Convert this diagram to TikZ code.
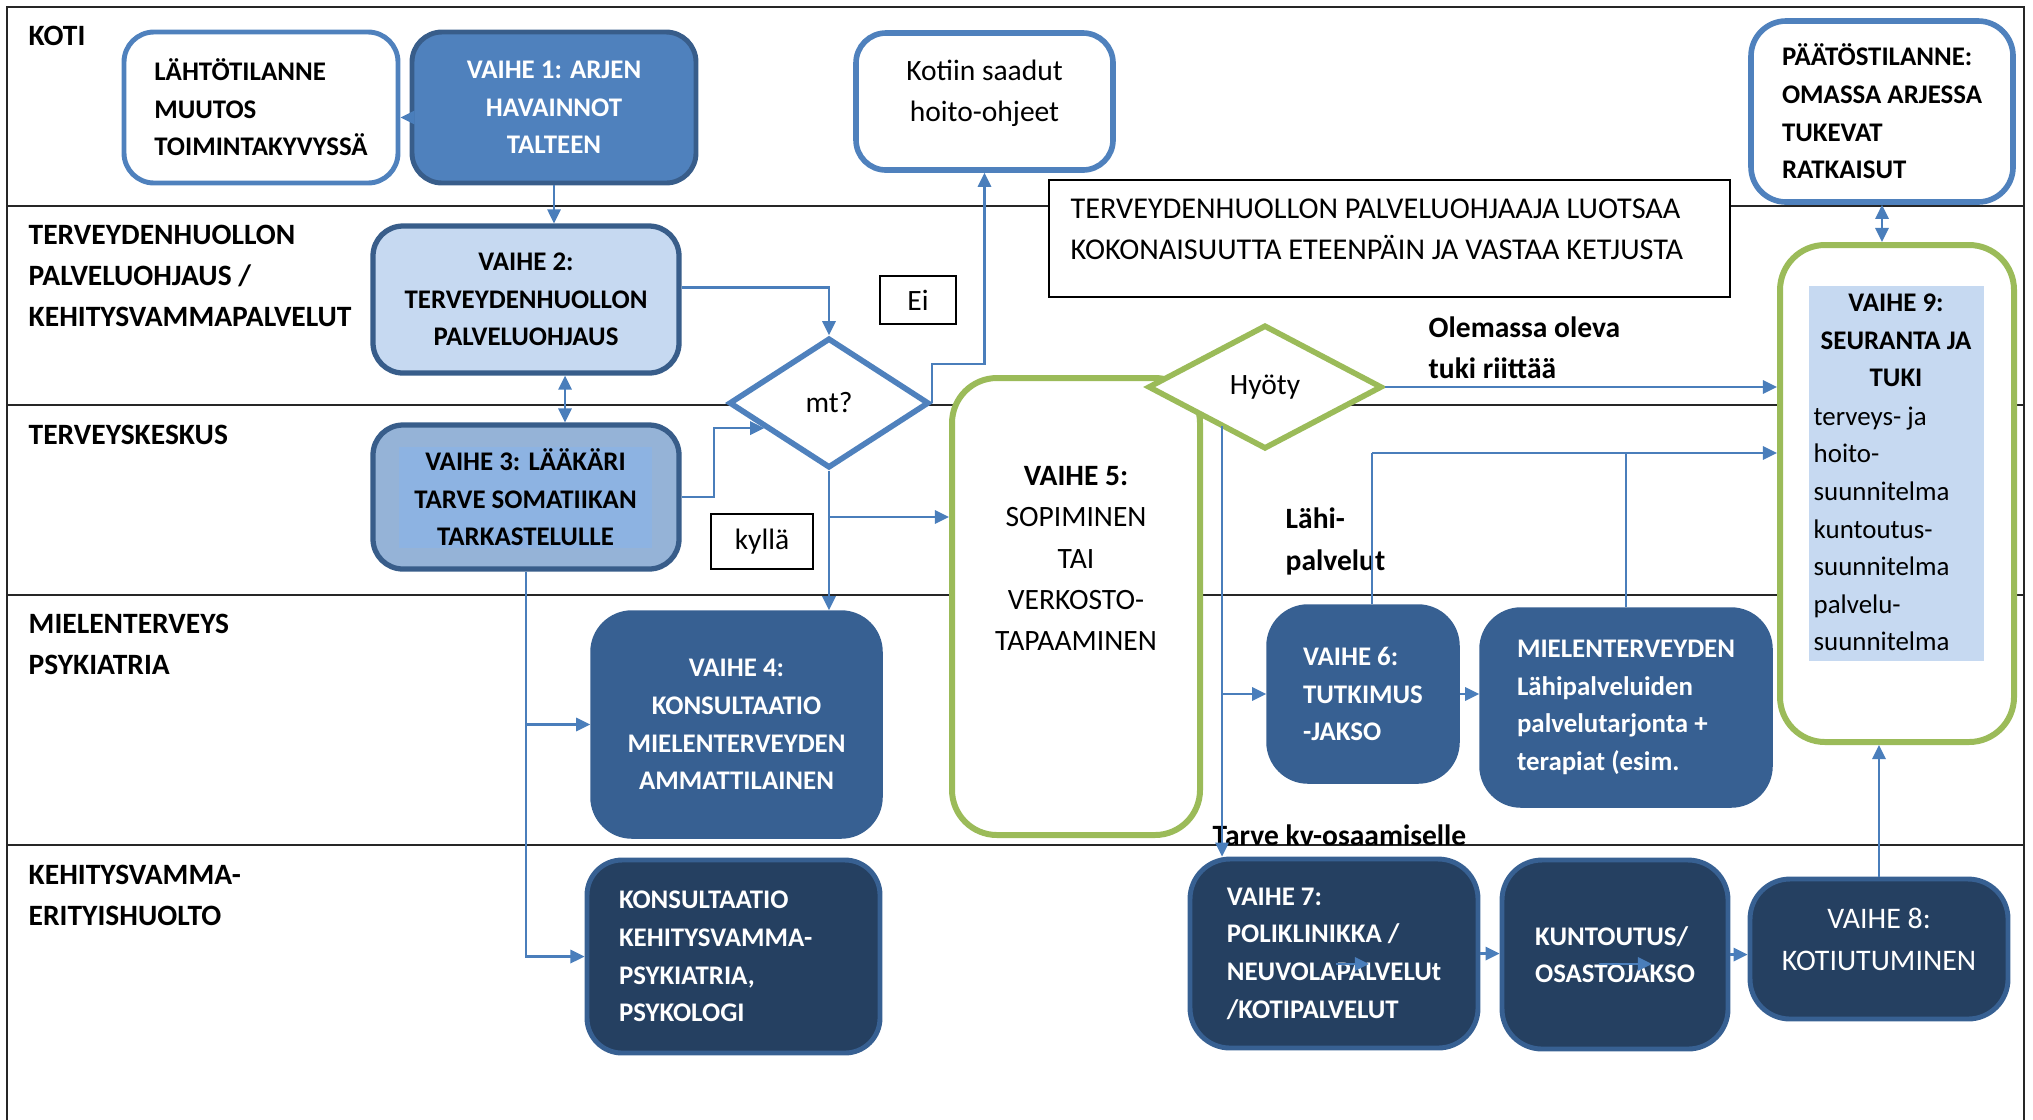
\documentclass[tikz,border=0pt]{standalone}
\usepackage{fontspec}
\setmainfont{Carlito}
\usepackage{tikz}
\usetikzlibrary{arrows.meta,shapes.geometric,calc}
\definecolor{accblue}{HTML}{4F81BD}
\definecolor{darkedge}{HTML}{385D8A}
\definecolor{paleblue}{HTML}{C6D9F1}
\definecolor{midblue}{HTML}{95B3D7}
\definecolor{skyblue}{HTML}{8DB3E2}
\definecolor{navy}{HTML}{376092}
\definecolor{deepnavy}{HTML}{254061}
\definecolor{leaf}{HTML}{9BBB59}
\definecolor{wire}{HTML}{4A7EBB}
\newcommand{\fb}{\fontsize{7.65}{10.7}\selectfont}
\newcommand{\fn}{\fontsize{8.4}{10.7}\selectfont}
\newcommand{\fw}{\fontsize{8.4}{11.7}\selectfont}
\tikzset{
lane/.style={draw=black!85,line width=0.55pt},
lanelbl/.style={anchor=west,align=left,inner sep=0pt,font=\fw\bfseries},
box/.style={rectangle,inner sep=0pt,align=center,font=\fb\bfseries},
pale/.style={box,fill=white,draw=accblue,line width=1.4pt,rounded corners=0.3cm},
solidblue/.style={box,fill=accblue,draw=darkedge,line width=1.4pt,rounded corners=0.3cm,text=white},
lightbox/.style={box,fill=paleblue,draw=darkedge,line width=1.5pt,rounded corners=0.3cm},
greenbox/.style={box,fill=white,draw=leaf,line width=1.7pt,rounded corners=0.45cm},
navybox/.style={box,fill=navy,draw=navy,line width=1pt,rounded corners=0.4cm,text=white},
deepbox/.style={box,fill=deepnavy,draw=navy,line width=1.4pt,rounded corners=0.4cm,text=white},
tag/.style={rectangle,draw=black,line width=0.5pt,fill=white,inner sep=0pt,font=\fn},
decision/.style={diamond,fill=white,line width=1.6pt,inner sep=0pt,font=\fn},
note/.style={anchor=west,align=left,inner sep=0pt,font=\fw\bfseries},
wire/.style={draw=wire,line width=0.6pt},
arr/.style={wire,-{Triangle[length=4pt,width=3.8pt]}},
arrtwo/.style={wire,{Triangle[length=4pt,width=3.8pt]}-{Triangle[length=4pt,width=3.8pt]}}
}
\begin{document}
\begin{tikzpicture}[x=1cm,y=-1cm]
\useasboundingbox(0,0)rectangle(20.33,11.19);
\draw[lane](0.07,11.4)--(0.07,0.07)--(20.24,0.07)--(20.24,11.4);
\foreach\y in{2.06,4.05,5.95,8.45}{\draw[lane](0.07,\y)--(20.24,\y);}
\node[lanelbl](koti)at(0.28,0.36){KOTI};
\node[lanelbl](tpo)at(0.28,2.76){TERVEYDENHUOLLON\\PALVELUOHJAUS /\\KEHITYSVAMMAPALVELUT};
\node[lanelbl](tk)at(0.28,4.35){TERVEYSKESKUS};
\node[lanelbl](mp)at(0.28,6.44){MIELENTERVEYS\\PSYKIATRIA};
\node[lanelbl](ke)at(0.28,8.95){KEHITYSVAMMA-\\ERITYISHUOLTO};

\node[pale,align=left,minimum width=2.74cm,minimum height=1.51cm](lahto)at(2.61,1.075){L\"AHT\"OTILANNE\\MUUTOS\\TOIMINTAKYVYSS\"A};
\node[solidblue,minimum width=2.84cm,minimum height=1.51cm](v1)at(5.54,1.075){VAIHE 1: ARJEN\\HAVAINNOT\\TALTEEN};
\node[lightbox,minimum width=3.06cm,minimum height=1.47cm](v2)at(5.26,2.995){VAIHE 2:\\TERVEYDENHUOLLON\\PALVELUOHJAUS};
\node[lightbox,fill=midblue,minimum width=3.06cm,minimum height=1.44cm](v3)at(5.26,4.97){};
\node[box,fill=skyblue,minimum width=2.53cm,minimum height=1.01cm](v3t)at(5.255,4.975){VAIHE 3: L\"A\"AK\"ARI\\TARVE SOMATIIKAN\\TARKASTELULLE};
\node[pale,line width=1.6pt,minimum width=2.57cm,minimum height=1.37cm](kotiin)at(9.845,1.015){};
\node[box,font=\fw](kotiint)at(9.845,0.93){Kotiin saadut\\hoito-ohjeet};
\node[tag,minimum width=6.81cm,minimum height=1.17cm](terv)at(13.895,2.385){};
\node[anchor=west,align=left,inner sep=0pt,font=\fontsize{8.6}{11.7}\selectfont](tervt)at(10.70,2.295){TERVEYDENHUOLLON PALVELUOHJAAJA LUOTSAA\\KOKONAISUUTTA ETEENP\"AIN JA VASTAA KETJUSTA};
\node[pale,line width=1.6pt,rounded corners=0.35cm,align=left,minimum width=2.62cm,minimum height=1.81cm](paatos)at(18.82,1.115){P\"A\"AT\"OSTILANNE:\\OMASSA ARJESSA\\TUKEVAT\\RATKAISUT};

\node[greenbox,minimum width=2.34cm,minimum height=4.97cm](v9)at(18.97,4.935){};
\node[box,fill=paleblue,minimum width=1.75cm,minimum height=3.75cm](v9in)at(18.965,4.735){};
\node[box](v9head)at(18.96,3.405){VAIHE 9:\\SEURANTA JA\\TUKI};
\node[anchor=west,align=left,inner sep=0pt,font=\fb](v9list)at(18.13,5.29){terveys- ja\\hoito-\\suunnitelma\\kuntoutus-\\suunnitelma\\palvelu-\\suunnitelma};

\node[greenbox,minimum width=2.48cm,minimum height=4.57cm](v5)at(10.76,6.065){};
\node[box,font=\fw](v5t)at(10.76,5.585){\textbf{VAIHE 5:}\\SOPIMINEN\\TAI\\VERKOSTO-\\TAPAAMINEN};
\node[decision,draw=accblue,minimum width=2.0cm,minimum height=1.3cm](mt)at(8.29,4.03){mt?};
\node[decision,draw=leaf,minimum width=2.34cm,minimum height=1.24cm](hyoty)at(12.65,3.87){Hy\"oty};
\node[tag,minimum width=0.76cm,minimum height=0.48cm](ei)at(9.18,3.0){Ei};
\node[tag,minimum width=1.02cm,minimum height=0.55cm](kylla)at(7.62,5.415){kyll\"a};

\node[navybox,minimum width=2.89cm,minimum height=2.25cm](v4)at(7.365,7.245){VAIHE 4:\\KONSULTAATIO\\MIELENTERVEYDEN\\AMMATTILAINEN};
\node[deepbox,rounded corners=0.35cm,align=left,text width=2.29cm,minimum width=2.93cm,minimum height=1.93cm](kons)at(7.335,9.565){KONSULTAATIO\\KEHITYSVAMMA-\\PSYKIATRIA,\\PSYKOLOGI};
\node[navybox,align=left,minimum width=1.9cm,minimum height=1.76cm](v6)at(13.63,6.94){VAIHE 6:\\TUTKIMUS\\-JAKSO};
\node[navybox,align=left,minimum width=2.9cm,minimum height=1.97cm](mielt)at(16.26,7.075){MIELENTERVEYDEN\\L\"ahipalveluiden\\palvelutarjonta +\\terapiat (esim.};
\node[deepbox,align=left,minimum width=2.88cm,minimum height=1.89cm](v7)at(13.34,9.535){VAIHE 7:\\POLIKLINIKKA /\\NEUVOLAPALVELUt\\/KOTIPALVELUT};
\node[deepbox,align=left,minimum width=2.26cm,minimum height=1.89cm](kunt)at(16.15,9.545){KUNTOUTUS/\\OSASTOJAKSO};
\node[deepbox,minimum width=2.58cm,minimum height=1.4cm](v8)at(18.79,9.49){};
\node[box,font=\fontsize{8.5}{12}\selectfont,text=white](v8t)at(18.79,9.39){VAIHE 8:\\KOTIUTUMINEN};

\node[note](olemassa)at(14.28,3.475){Olemassa oleva\\tuki riitt\"a\"a};
\node[note](lahi)at(12.85,5.415){L\"ahi-\\palvelut};
\node[note](tarve)at(12.12,8.35){Tarve kv-osaamiselle};

\coordinate(mtin)at($(mt.west)!0.37!(mt.south)$);
\coordinate(kb)at(8.29,5.17);
\coordinate(hd)at(12.22,4.26);
\coordinate(lp)at(13.72,4.53);
\draw[arr]([yshift=-0.1cm]v1.west)--([yshift=-0.1cm]lahto.east);
\draw[arr](v1.south)--(v1.south|-v2.north);
\draw[arrtwo]([xshift=0.39cm]v2.south)--([xshift=0.39cm]v3.north);
\draw[arr]([yshift=0.12cm]v2.east)-|(mt.north);
\draw[arr](v3.east)--++(0.32,0)|-(mtin);
\draw[arr](mt.east)--++(0,-0.39)-|(kotiin.south);
\draw[arr](mt.south)--(mt.south|-v4.north);
\draw[arr](kb)--(kb-|v5.west);
\draw[arr](v3.south)|-(v4.west);
\draw[arr](v3.south)|-(kons.west);
\draw[arr](hyoty.east)--(hyoty.east-|v9.west);
\draw[arr](hd)--(hd|-v7.north);
\draw[arr](hd|-v6.west)--(v6.west);
\draw[arr](v6.east)--(v6.east-|mielt.west);
\draw[wire](lp|-v6.north)--(lp);
\draw[arr](lp)--(lp-|v9.west);
\draw[wire](mielt.north)--(mielt.north|-lp);
\draw[arr](v7.east)--(v7.east-|kunt.west);
\draw[arr](kunt.east)--(kunt.east-|v8.west);
\draw[arr](v8.north)--(v8.north|-v9.south);
\draw[arrtwo](paatos.south)--(paatos.south|-v9.north);
\draw[arr]([shift={(0.02,0.105)}]v7.center)--++(0.33,0);
\draw[arr]([shift={(-0.16,0.095)}]kunt.center)--++(0.53,0);
\end{tikzpicture}
\end{document}
